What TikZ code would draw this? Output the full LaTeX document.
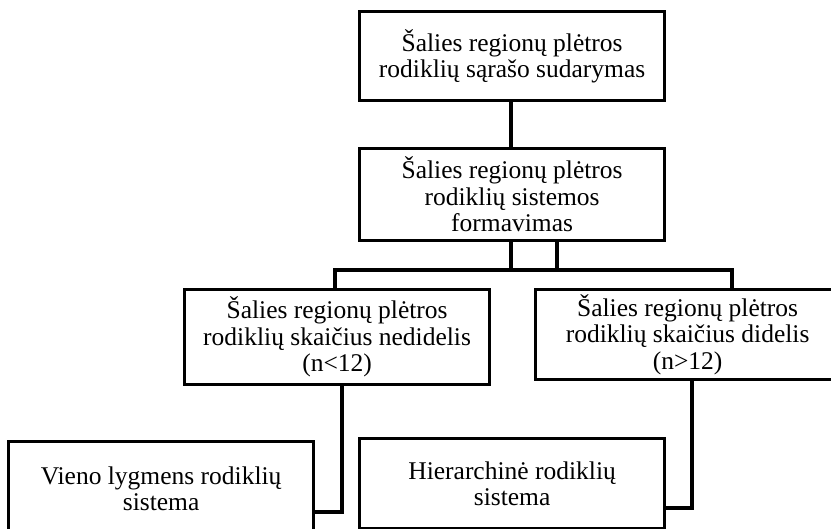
\documentclass[tikz,border=0pt]{standalone}
\usepackage{fontspec}
\setmainfont{Liberation Serif}
\begin{document}
\begin{tikzpicture}[x=1pt,y=-1pt,
  box/.style={draw,line width=3.2pt,inner sep=0pt,align=center,
    font=\fontsize{25.5}{26.5}\selectfont,minimum width=305pt,anchor=north west},
  conn/.style={line width=3.2pt,line cap=rect}]
\useasboundingbox (0,0) rectangle (831,529);
\node[box,minimum height=89pt] (b1) at (358,10) {Šalies regionų plėtros\\rodiklių sąrašo sudarymas};
\node[box,minimum height=92pt] (b2) at (358,147) {Šalies regionų plėtros\\rodiklių sistemos\\formavimas};
\node[box,minimum height=95pt] (b3) at (183,288) {Šalies regionų plėtros\\rodiklių skaičius nedidelis\\(n<12)};
\node[box,minimum height=90pt,minimum width=304pt] (b4) at (534,288) {Šalies regionų plėtros\\rodiklių skaičius didelis\\(n>12)};
\node[box,minimum height=94pt] (b5) at (7,440) {Vieno lygmens rodiklių\\sistema};
\node[box,minimum height=90pt] (b6) at (358,437) {Hierarchinė rodiklių\\sistema};
\coordinate (h1) at (511,270);
\coordinate (h2) at (557,270);
\coordinate (hl) at (335,270);
\coordinate (hr) at (732,270);
\coordinate (d3) at (342,512);
\coordinate (d4) at (692,508);
\draw[conn] (b1.south -| h1) -- (b2.north -| h1);
\draw[conn] (b2.south -| h1) -- (h1);
\draw[conn] (b2.south -| h2) -- (h2);
\draw[conn] (hl) -- (hr);
\draw[conn] (hl) -- (b3.north -| hl);
\draw[conn] (hr) -- (b4.north -| hr);
\draw[conn] (b3.south -| d3) -- (d3) -- (b5.east |- d3);
\draw[conn] (b4.south -| d4) -- (d4) -- (b6.east |- d4);
\end{tikzpicture}
\end{document}
